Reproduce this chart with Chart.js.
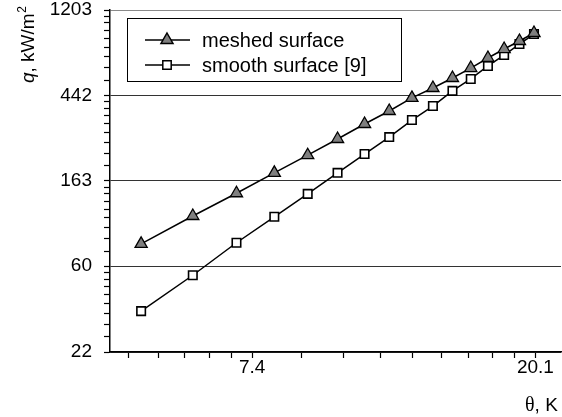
<!DOCTYPE html>
<html>
<head>
<meta charset="utf-8">
<script src="https://cdn.jsdelivr.net/npm/chart.js@4"></script>
<style>
  html, body { margin: 0; padding: 0; background: #fff; }
  #wrap { width: 562px; height: 417px; }
</style>
</head>
<body>
<div id="wrap"><canvas id="c"></canvas></div>
<script>
// theta, K (log axis) and q, kW/m2 (log axis)
var theta = [5, 6, 7, 8, 9, 10, 11, 12, 13, 14, 15, 16, 17, 18, 19, 20];
var meshed = [78, 108, 141, 179, 220, 266, 317, 369, 430, 483, 543, 610, 686, 762, 837, 919];
var smooth = [35.5, 54, 79, 107, 140, 179, 223, 272, 332, 391, 467, 537, 625, 710, 808, 908];

var yMajor = [22, 60, 163, 442, 1203];
var xMajor = [7.4, 20.1];
var xBelow = 2.7;   // e^1, only used for the minor tick spacing under 7.4

var FONT = '"Liberation Sans", Arial, sans-serif';

function ninths(a, b) {
    var out = [];
    for (var k = 1; k < 9; k++) out.push(a + (b - a) * k / 9);
    return out;
}

function buildTicks(majors, below, min, max) {
    var vals = [];
    var stops = below ? [below].concat(majors) : majors;
    for (var i = 0; i < stops.length - 1; i++) {
        vals = vals.concat(ninths(stops[i], stops[i + 1]));
    }
    vals = vals.concat(majors).filter(function (v) { return v >= min - 1e-9 && v <= max + 1e-9; });
    vals.sort(function (a, b) { return a - b; });
    return vals.map(function (v) {
        return { value: v, major: majors.indexOf(v) >= 0 };
    });
}

var X_MIN = 4.48, X_MAX = 22;
var Y_MIN = 22, Y_MAX = 1203;

// legend with line + marker samples, and the axis titles with mixed fonts
var decorations = {
    id: 'decorations',
    afterDraw: function (chart) {
        var ctx = chart.ctx;
        ctx.save();

        // legend box
        ctx.fillStyle = '#fff';
        ctx.fillRect(127, 18, 275, 64);
        ctx.strokeStyle = '#000';
        ctx.lineWidth = 1;
        ctx.strokeRect(127.5, 18.5, 274, 63);

        var rows = [
            { y: 40, text: 'meshed surface', style: 'triangle' },
            { y: 65, text: 'smooth surface [9]', style: 'rect' }
        ];
        rows.forEach(function (r) {
            ctx.strokeStyle = '#000';
            ctx.lineWidth = 1.5;
            ctx.beginPath();
            ctx.moveTo(145, r.y);
            ctx.lineTo(190, r.y);
            ctx.stroke();
            ctx.beginPath();
            if (r.style === 'triangle') {
                ctx.moveTo(167, r.y - 7);
                ctx.lineTo(173, r.y + 3.5);
                ctx.lineTo(161, r.y + 3.5);
                ctx.closePath();
                ctx.fillStyle = '#7f7f7f';
            } else {
                ctx.rect(162.8, r.y - 4.2, 8.4, 8.4);
                ctx.fillStyle = '#fff';
            }
            ctx.fill();
            ctx.stroke();
            ctx.fillStyle = '#000';
            ctx.font = '20px ' + FONT;
            ctx.textBaseline = 'middle';
            ctx.textAlign = 'left';
            ctx.fillText(r.text, 202, r.y + 1);
        });

        // y title: q, kW/m^2
        ctx.save();
        ctx.translate(34, 83);
        ctx.rotate(-Math.PI / 2);
        ctx.textBaseline = 'alphabetic';
        ctx.textAlign = 'left';
        ctx.fillStyle = '#000';
        var x = 0;
        ctx.font = 'italic 19px ' + FONT;
        ctx.fillText('q', x, 0);
        x += ctx.measureText('q').width;
        ctx.font = '19px ' + FONT;
        ctx.fillText(', kW/m', x, 0);
        x += ctx.measureText(', kW/m').width;
        ctx.font = '12px ' + FONT;
        ctx.fillText('2', x + 0.5, -8.5);
        ctx.restore();

        // x title: theta, K
        ctx.textBaseline = 'alphabetic';
        ctx.textAlign = 'left';
        ctx.fillStyle = '#000';
        ctx.font = '20px "Liberation Serif", "Times New Roman", serif';
        var tx = 525;
        ctx.fillText('\u03b8', tx, 411);
        tx += ctx.measureText('\u03b8').width;
        ctx.font = '19px ' + FONT;
        ctx.fillText(', K', tx, 411);

        ctx.restore();
    }
};

new Chart(document.getElementById('c'), {
    type: 'line',
    data: {
        datasets: [{
            label: 'meshed surface',
            data: theta.map(function (t, i) { return { x: t, y: meshed[i] }; }),
            borderColor: '#000',
            borderWidth: 1.5,
            pointStyle: 'triangle',
            pointRadius: 7,
            pointBackgroundColor: '#7f7f7f',
            pointBorderColor: '#000',
            pointBorderWidth: 1.3,
            tension: 0
        }, {
            label: 'smooth surface [9]',
            data: theta.map(function (t, i) { return { x: t, y: smooth[i] }; }),
            borderColor: '#000',
            borderWidth: 1.5,
            pointStyle: 'rect',
            pointRadius: 6,
            pointBackgroundColor: '#fff',
            pointBorderColor: '#000',
            pointBorderWidth: 1.6,
            tension: 0
        }]
    },
    options: {
        responsive: true,
        maintainAspectRatio: false,
        animation: false,
        layout: { autoPadding: false, padding: { top: 10, right: 1, left: 0, bottom: 0 } },
        plugins: {
            legend: { display: false },
            tooltip: { enabled: false }
        },
        scales: {
            x: {
                type: 'logarithmic',
                min: X_MIN,
                max: X_MAX,
                afterBuildTicks: function (scale) {
                    scale.ticks = buildTicks(xMajor, xBelow, X_MIN, X_MAX);
                },
                afterFit: function (scale) {
                    scale.height = 65;
                    scale.paddingLeft = 0;
                    scale.paddingRight = 0;
                },
                ticks: {
                    autoSkip: false,
                    maxRotation: 0,
                    padding: -2,
                    color: '#000',
                    font: { family: FONT, size: 19 },
                    callback: function (value, index, ticks) {
                        return ticks[index].major ? String(value) : '';
                    }
                },
                grid: {
                    drawOnChartArea: false,
                    tickLength: 6,
                    tickColor: '#000',
                    tickWidth: 1.2
                },
                border: { display: true, color: '#000', width: 1.5 }
            },
            y: {
                type: 'logarithmic',
                min: Y_MIN,
                max: Y_MAX,
                afterBuildTicks: function (scale) {
                    scale.ticks = buildTicks(yMajor, null, Y_MIN, Y_MAX);
                },
                afterFit: function (scale) {
                    scale.width = 110;
                    scale.paddingTop = 0;
                    scale.paddingBottom = 0;
                },
                ticks: {
                    autoSkip: false,
                    padding: 12,
                    color: '#000',
                    font: { family: FONT, size: 19 },
                    callback: function (value, index, ticks) {
                        return ticks[index].major ? String(value) : '';
                    }
                },
                grid: {
                    tickLength: 6,
                    tickColor: '#000',
                    tickWidth: 1.2,
                    lineWidth: 1,
                    color: function (ctx) {
                        if (!ctx.tick || !ctx.tick.major) return 'rgba(0,0,0,0)';
                        return ctx.tick.value === Y_MAX ? '#8a8a8a' : '#333';
                    }
                },
                border: { display: true, color: '#000', width: 1.5 }
            }
        }
    },
    plugins: [decorations]
});
</script>
</body>
</html>
